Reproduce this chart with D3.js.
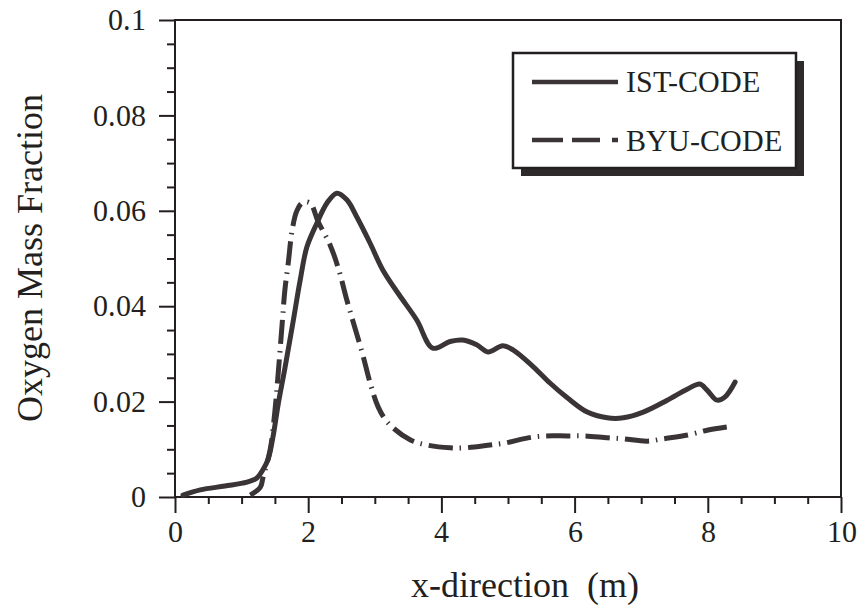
<!DOCTYPE html>
<html>
<head>
<meta charset="utf-8">
<script src="https://cdn.jsdelivr.net/npm/d3@7"></script>
<style>
  @font-face {
    font-family: "ChartSerif";
    src: local("Liberation Serif"), local("LiberationSerif-Regular"), local("LiberationSerif"),
         local("Times New Roman"), local("DejaVu Serif"), local("DejaVuSerif"), local("Noto Serif");
  }
  html, body { margin: 0; padding: 0; background: #fff; }
  svg { display: block; }
  svg text { font-family: "ChartSerif", "Liberation Serif", "DejaVu Serif", serif; fill: #231f20; }
</style>
</head>
<body>
<svg id="chart" width="858" height="613"></svg>
<script>
// Oxygen mass fraction along the x-direction, two codes
const istX = [0.12, 0.38, 0.75, 1.08, 1.23, 1.32, 1.40, 1.47, 1.55, 1.65, 1.77, 1.88, 1.98, 2.13, 2.28, 2.43,
              2.58, 2.73, 2.93, 3.12, 3.36, 3.63, 3.87, 4.13, 4.32, 4.53, 4.70, 4.92, 5.08, 5.38, 5.63,
              5.89, 6.19, 6.49, 6.73, 7.03, 7.39, 7.69, 7.88, 7.99, 8.14, 8.26, 8.41];
const istY = [0.0004, 0.0015, 0.0023, 0.0031, 0.0040, 0.0057, 0.0080, 0.0125, 0.0195, 0.0270, 0.0365, 0.0455, 0.0524, 0.0574, 0.0616, 0.0637,
              0.0623, 0.0587, 0.0532, 0.0476, 0.0425, 0.0371, 0.0312, 0.0326, 0.0329, 0.0319, 0.0304, 0.0317, 0.0308, 0.0273, 0.0239,
              0.0208, 0.0178, 0.0166, 0.0166, 0.0178, 0.0203, 0.0226, 0.0237, 0.0224, 0.0203, 0.0210, 0.0241];

const byuX = [1.13, 1.28, 1.32, 1.43, 1.50, 1.55, 1.61, 1.65, 1.70, 1.76, 1.83, 1.92, 2.03, 2.15, 2.33, 2.46,
              2.58, 2.69, 2.82, 2.93, 3.05, 3.20, 3.53, 3.78, 4.13, 4.35, 4.73, 4.95, 5.30, 5.56, 5.89,
              6.13, 6.50, 6.73, 7.09, 7.33, 7.70, 7.99, 8.30];
const byuY = [0.0004, 0.0020, 0.0040, 0.0100, 0.0180, 0.0260, 0.0365, 0.0434, 0.0490, 0.0560, 0.0600, 0.0618, 0.0616, 0.0577, 0.0528, 0.0476,
              0.0413, 0.0360, 0.0298, 0.0239, 0.0189, 0.0155, 0.0120, 0.0109, 0.0103, 0.0103, 0.0109, 0.0113, 0.0124, 0.0128, 0.0128,
              0.0128, 0.0124, 0.0122, 0.0117, 0.0122, 0.0130, 0.0140, 0.0147];

const seriesNames = ["IST-CODE", "BYU-CODE"];
const xMajorTicks = [0, 2, 4, 6, 8, 10];
const yMajorTicks = [0, 0.02, 0.04, 0.06, 0.08, 0.1];
const xTitle = "x-direction  (m)";
const yTitle = "Oxygen Mass Fraction";

const serif = "ChartSerif, 'Liberation Serif', 'DejaVu Serif', serif";
const svg = d3.select("#chart");
const ink = "#231f20";
const curveInk = "#3b3436";

const x = d3.scaleLinear().domain([0, 10]).range([175, 841]);
const y = d3.scaleLinear().domain([0, 0.1]).range([497, 20]);

// frame
svg.append("rect")
  .attr("x", x(0)).attr("y", y(0.1))
  .attr("width", x(10) - x(0)).attr("height", y(0) - y(0.1))
  .attr("fill", "none").attr("stroke", ink).attr("stroke-width", 2);

// x axis: minor ticks every 0.5, major labelled every 2
const xMinor = d3.range(0, 10.01, 0.5).filter(v => !xMajorTicks.includes(v));
svg.append("g").attr("transform", `translate(0,${y(0)})`)
  .call(d3.axisBottom(x).tickValues(xMinor).tickSize(7).tickFormat(""))
  .call(g => g.select(".domain").remove())
  .call(g => g.selectAll("line").attr("stroke", ink).attr("stroke-width", 2));
svg.append("g").attr("transform", `translate(0,${y(0)})`)
  .call(d3.axisBottom(x).tickValues(xMajorTicks).tickSize(16).tickPadding(8).tickFormat(d3.format("d")))
  .attr("font-family", serif).attr("font-size", 30)
  .call(g => g.select(".domain").remove())
  .call(g => g.selectAll("line").attr("stroke", ink).attr("stroke-width", 2))
  .call(g => g.selectAll("text").attr("fill", ink));

// y axis: minor ticks every 0.005, major labelled every 0.02
const yMinor = d3.range(0, 0.1001, 0.005).map(v => +v.toFixed(3)).filter(v => !yMajorTicks.includes(v));
svg.append("g").attr("transform", `translate(${x(0)},0)`)
  .call(d3.axisLeft(y).tickValues(yMinor).tickSize(8).tickFormat(""))
  .call(g => g.select(".domain").remove())
  .call(g => g.selectAll("line").attr("stroke", ink).attr("stroke-width", 2));
svg.append("g").attr("transform", `translate(${x(0)},0)`)
  .call(d3.axisLeft(y).tickValues(yMajorTicks).tickSize(16).tickPadding(13).tickFormat(d3.format("~g")))
  .attr("font-family", serif).attr("font-size", 30)
  .call(g => g.select(".domain").remove())
  .call(g => g.selectAll("line").attr("stroke", ink).attr("stroke-width", 2))
  .call(g => g.selectAll("text").attr("fill", ink));

// axis titles
svg.append("text")
  .attr("x", 525).attr("y", 597)
  .attr("text-anchor", "middle").attr("font-size", 36)
  .style("white-space", "pre")
  .text(xTitle);
svg.append("text")
  .attr("transform", "translate(42,258) rotate(-90)")
  .attr("text-anchor", "middle").attr("font-size", 36)
  .text(yTitle);

// curves
const line = d3.line()
  .x(d => x(d[0])).y(d => y(d[1]))
  .curve(d3.curveCatmullRom.alpha(0.5));

const istData = istX.map((v, i) => [v, istY[i]]);
const byuData = byuX.map((v, i) => [v, byuY[i]]);

svg.append("path").datum(byuData)
  .attr("d", line).attr("fill", "none")
  .attr("stroke", curveInk).attr("stroke-width", 5)
  .attr("stroke-dasharray", "24,7,1.5,7")
  .attr("stroke-linejoin", "round");

svg.append("path").datum(istData)
  .attr("d", line).attr("fill", "none")
  .attr("stroke", curveInk).attr("stroke-width", 5)
  .attr("stroke-linejoin", "round").attr("stroke-linecap", "round");

// legend with drop shadow
const lg = svg.append("g");
lg.append("rect").attr("x", 521).attr("y", 61).attr("width", 283).attr("height", 115).attr("fill", "#2e2a2b");
lg.append("rect").attr("x", 513).attr("y", 53).attr("width", 283).attr("height", 115)
  .attr("fill", "#fff").attr("stroke", ink).attr("stroke-width", 2.5);

lg.append("line").attr("x1", 532).attr("x2", 618).attr("y1", 82).attr("y2", 82)
  .attr("stroke", curveInk).attr("stroke-width", 4.5);
lg.append("line").attr("x1", 532).attr("x2", 618).attr("y1", 140).attr("y2", 140)
  .attr("stroke", curveInk).attr("stroke-width", 4.5)
  .attr("stroke-dasharray", "31,9,28,12,6,100");

lg.append("text").attr("x", 626).attr("y", 92).attr("font-size", 30).text(seriesNames[0]);
lg.append("text").attr("x", 626).attr("y", 151).attr("font-size", 30).text(seriesNames[1]);
</script>
</body>
</html>
